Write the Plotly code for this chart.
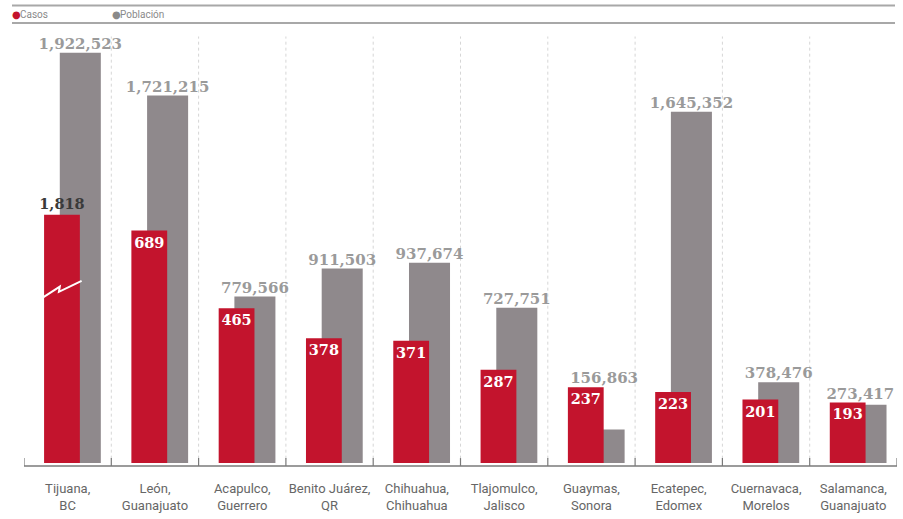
import plotly.graph_objects as go

# ---- data ----
cities = ["Tijuana,<br>BC", "León,<br>Guanajuato", "Acapulco,<br>Guerrero", "Benito Juárez,<br>QR",
          "Chihuahua,<br>Chihuahua", "Tlajomulco,<br>Jalisco", "Guaymas,<br>Sonora",
          "Ecatepec,<br>Edomex", "Cuernavaca,<br>Morelos", "Salamanca,<br>Guanajuato"]
casos = [1818, 689, 465, 378, 371, 287, 237, 223, 201, 193]
poblacion = [1922523, 1721215, 779566, 911503, 937674, 727751, 156863, 1645352, 378476, 273417]
casos_cap = 735  # broken-axis display cap (Tijuana bar is truncated)
legend_names = ["Casos", "Población"]

RED = "#c3142d"
GRAY = "#8f898c"

W, H = 903, 519
ML, MR, MT, MB = 24, 6, 30, 49
PW, PH = W - ML - MR, H - MT - MB

POB_PX = 0.0002169   # px per inhabitant
CAS_PX = 0.352       # px per case
CAS_BASE = 18        # casos value at the plot bottom

GRAY_OFF, GRAY_W = -0.09, 0.47
RED_OFF, RED_W = -0.27, 0.41


def px_x(px):
    return (px - ML) / PW


def px_y(py):
    return (H - MB - py) / PH


idx = list(range(len(cities)))
casos_disp = [min(v, casos_cap) for v in casos]
casos_pos = ["outside" if v > casos_cap else "inside" for v in casos]

# población labels sit above the taller of the two bars, centred on the gray bar
red_in_pob = [(c - CAS_BASE) * CAS_PX / POB_PX for c in casos_disp]
lab_y = [max(p, r) if c <= casos_cap else p for p, r, c in zip(poblacion, red_in_pob, casos)]
half_lab = 0.42
lab_x = [min(i + GRAY_OFF + GRAY_W / 2, len(idx) - 0.5 - half_lab) for i in idx]

fig = go.Figure()
fig.add_trace(go.Bar(
    x=idx, y=poblacion, yaxis="y", marker=dict(color=GRAY, line=dict(width=0)),
    offset=GRAY_OFF, width=GRAY_W, name=legend_names[1], showlegend=False, hoverinfo="y",
))
fig.add_trace(go.Scatter(
    x=lab_x, y=lab_y, yaxis="y", mode="text", text=[f"{v:,}" for v in poblacion],
    textposition="top center", cliponaxis=False, showlegend=False, hoverinfo="skip",
    textfont=dict(family="DejaVu Serif", size=15, color="#9a9a9a", weight="bold"),
))
fig.add_trace(go.Bar(
    x=idx, y=casos_disp, yaxis="y2", marker=dict(color=RED, line=dict(width=0)),
    offset=RED_OFF, width=RED_W,
    text=[f"{v:,}" for v in casos], textposition=casos_pos, insidetextanchor="end",
    insidetextfont=dict(family="DejaVu Serif", size=14.5, color="white", weight="bold"),
    outsidetextfont=dict(family="DejaVu Serif", size=14.5, color="#3a3a3a", weight="bold"),
    cliponaxis=False, constraintext="none", textangle=0, name=legend_names[0], showlegend=False,
))

shapes = []
# dotted separators
for i in idx[:-1]:
    shapes.append(dict(type="line", xref="x", yref="paper", x0=i + 0.5, x1=i + 0.5,
                       y0=0.01, y1=0.985, line=dict(color="#d6d6d6", width=1, dash="dot"), layer="below"))
# bottom axis line and boundary ticks
ya = px_y(473)
shapes.append(dict(type="line", xref="x", yref="paper", x0=-0.5, x1=len(idx) - 0.5, y0=ya, y1=ya,
                   line=dict(color="#7a7a7a", width=1.5)))
for i in range(len(idx) + 1):
    shapes.append(dict(type="line", xref="x", yref="paper", x0=i - 0.5, x1=i - 0.5, y0=ya, y1=px_y(465),
                       line=dict(color="#7a7a7a", width=1.2)))
# break mark on Tijuana bar
b = casos_cap
path = (f"M {-0.29},{b*0.673} L {-0.09},{b*0.717} L {-0.10},{b*0.697} L {0.16},{b*0.74}")
shapes.append(dict(type="path", xref="x", yref="y2", path=path,
                   line=dict(color="white", width=2), layer="above"))
# legend rules
for py in (5, 23):
    shapes.append(dict(type="line", xref="paper", yref="paper", x0=px_x(12), x1=px_x(895),
                       y0=px_y(py), y1=px_y(py), line=dict(color="#a8a8a8", width=2)))

annotations = []
for name, col, xp in zip(legend_names, [RED, "#8a8a8a"], [10, 110]):
    annotations.append(dict(xref="paper", yref="paper", x=px_x(xp), y=px_y(14), xanchor="left",
                            yanchor="middle", text="●", showarrow=False,
                            font=dict(family="DejaVu Sans", size=10, color=col)))
    annotations.append(dict(xref="paper", yref="paper", x=px_x(xp + 8), y=px_y(14), xanchor="left",
                            yanchor="middle", text=name, showarrow=False,
                            font=dict(family="Roboto", size=10, color="#8a8a8a")))

fig.update_layout(
    width=W, height=H, margin=dict(l=ML, r=MR, t=MT, b=MB),
    paper_bgcolor="white", plot_bgcolor="white", barmode="overlay",
    xaxis=dict(range=[-0.5, len(idx) - 0.5], tickvals=idx, ticktext=cities, showgrid=False,
               zeroline=False, showline=False, ticks="", ticklabelstandoff=16,
               tickfont=dict(family="Roboto", size=13, color="#666666")),
    yaxis=dict(range=[0, PH / POB_PX], visible=False, showgrid=False, zeroline=False),
    yaxis2=dict(range=[CAS_BASE, CAS_BASE + PH / CAS_PX], overlaying="y", visible=False,
                showgrid=False, zeroline=False),
    shapes=shapes, annotations=annotations,
)

fig.write_html("out.html", config={"displayModeBar": False},
               post_script="document.body.style.margin='0';")
